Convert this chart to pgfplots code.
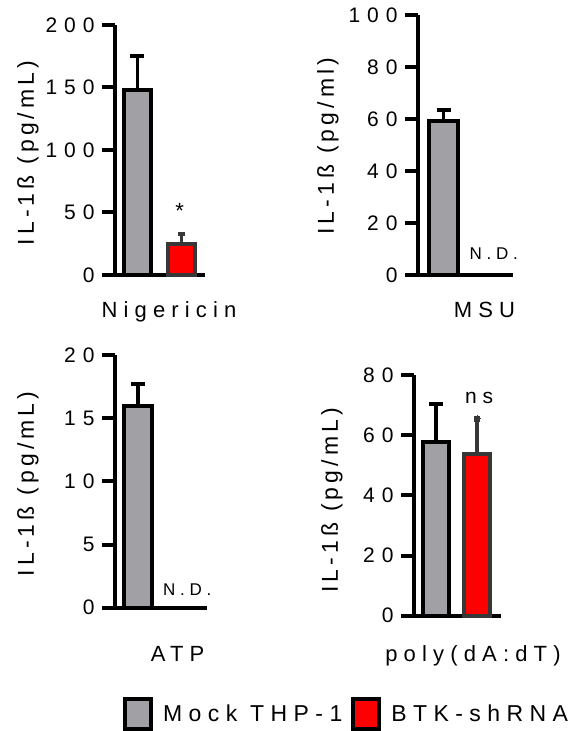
\documentclass[border=0pt]{standalone}
\usepackage{fontspec}
\setmainfont[LetterSpace=28]{Liberation Sans}
\newfontfamily\tickfont[LetterSpace=33]{Liberation Sans}
\newfontfamily\ylabfont[LetterSpace=18]{Liberation Sans}
\usepackage{pgfplots}
\pgfplotsset{compat=1.18}
\definecolor{mockgrey}{RGB}{160,160,165}
\definecolor{btkred}{RGB}{255,0,0}
\definecolor{btkedge}{RGB}{55,55,55}
\pgfplotsset{
  panel/.style={
    scale only axis,
    anchor=south west,
    axis lines*=left,
    axis line style={line width=4pt, black},
    xtick=\empty,
    ymin=0,
    tick align=outside,
    ytick pos=left,
    major tick length=13pt,
    tick style={line width=4pt, black},
    /pgf/number format/assume math mode=true,
    yticklabel style={font=\tickfont\fontsize{21}{25}\selectfont, xshift=-4pt},
    ylabel style={font=\ylabfont\fontsize{23}{27}\selectfont, anchor=center},
    clip=false,
  },
  mockbar/.style={ybar, bar shift=0pt, fill=mockgrey, draw=black, line width=4pt,
    error bars/y dir=plus, error bars/y explicit, error bars/error mark=|,
    error bars/error bar style={line width=3.5pt, black},
    error bars/error mark options={line width=3.5pt, mark size=7pt, black}},
  btkbar/.style={ybar, bar shift=0pt, fill=btkred, draw=btkedge, line width=4pt,
    error bars/y dir=plus, error bars/y explicit, error bars/error mark=|,
    error bars/error bar style={line width=3.5pt, btkedge},
    error bars/error mark options={line width=3.5pt, mark size=3.5pt, btkedge}},
}
\begin{document}
\begin{tikzpicture}
\useasboundingbox (0pt,0pt) rectangle (575pt,731pt);
% Panel 1: Nigericin
\begin{axis}[panel, at={(115pt,456pt)}, width=90pt, height=250pt,
  xmin=-0.511, xmax=1.534, ymax=200, ytick={0,50,100,150,200},
  ylabel={IL-1ß  (pg/mL)}, ylabel style={at={(axis description cs:-0.967,0.488)}}]
\addplot[mockbar, bar width=27pt] coordinates {(0,148) +- (0,27)};
\addplot[btkbar, bar width=27pt] coordinates {(1,24.8) +- (0,8)};
\node[anchor=base, font=\fontsize{22}{26}\selectfont] at (axis cs:0.96,45.5) {*};
\node[anchor=base, font=\fontsize{22}{26}\selectfont] at (axis description cs:0.6,-0.172) {Nigericin};
\end{axis}
% Panel 2: MSU
\begin{axis}[panel, at={(418pt,456pt)}, width=95pt, height=260pt,
  xmin=-0.5795, xmax=1.5795, ymax=100, ytick={0,20,40,60,80,100},
  ylabel={IL-1ß  (pg/ml)}, ylabel style={at={(axis description cs:-0.947,0.496)}}]
\addplot[mockbar, bar width=29pt] coordinates {(0,59.2) +- (0,4.3)};
\node[anchor=base, font=\fontsize{17}{20}\selectfont] at (axis cs:1.14,5.8) {N.D.};
\node[anchor=base, font=\fontsize{22}{26}\selectfont] at (axis description cs:0.70,-0.165) {MSU};
\end{axis}
% Panel 3: ATP
\begin{axis}[panel, at={(115pt,123.3pt)}, width=92pt, height=252.7pt,
  xmin=-0.523, xmax=1.568, ymax=20, ytick={0,5,10,15,20},
  ylabel={IL-1ß  (pg/mL)}, ylabel style={at={(axis description cs:-0.946,0.49)}}]
\addplot[mockbar, bar width=28pt] coordinates {(0,16.0) +- (0,1.7)};
\node[anchor=base, font=\fontsize{17}{20}\selectfont] at (axis cs:1.12,1.0) {N.D.};
\node[anchor=base, font=\fontsize{22}{26}\selectfont] at (axis description cs:0.68,-0.214) {ATP};
\end{axis}
% Panel 4: poly(dA:dT)
\begin{axis}[panel, at={(414pt,115.3pt)}, width=86.7pt, height=240.7pt,
  xmin=-0.537, xmax=1.578, ymax=80, ytick={0,20,40,60,80},
  ylabel={IL-1ß  (pg/mL)}, ylabel style={at={(axis description cs:-0.946,0.48)}},
  legend style={at={(axis description cs:-3.356,-0.479)}, anchor=south west,
    draw=none, fill=none, inner sep=0pt, outer sep=0pt, legend columns=2,
    font=\fontsize{23}{27}\selectfont,
    /tikz/every odd column/.append style={column sep=8pt},
    /tikz/every even column/.append style={column sep=7pt}},
  legend cell align=left]
\addplot[mockbar, bar width=26pt, forget plot] coordinates {(0,57.7) +- (0,12.6)};
\addplot[btkbar, bar width=26pt, forget plot,
  error bars/error mark=*, error bars/error mark options={mark size=3pt, btkedge, fill=btkedge, line width=0pt}]
  coordinates {(1,53.8) +- (0,11.6)};
\node[anchor=base, font=\fontsize{21}{25}\selectfont] at (axis cs:1.05,70.6) {ns};
\node[anchor=base, font=\fontsize{22}{26}\selectfont] at (axis description cs:0.68,-0.191) {poly(dA:dT)};
\addlegendimage{legend image code/.code={\draw[fill=mockgrey, draw=black, line width=4pt] (2pt,-15pt) rectangle (28pt,15pt);}}
\addlegendentry{Mock THP-1}
\addlegendimage{legend image code/.code={\draw[fill=btkred, draw=black, line width=4pt] (2pt,-15pt) rectangle (28pt,15pt);}}
\addlegendentry{BTK-shRNA}
\end{axis}
\end{tikzpicture}
\end{document}
